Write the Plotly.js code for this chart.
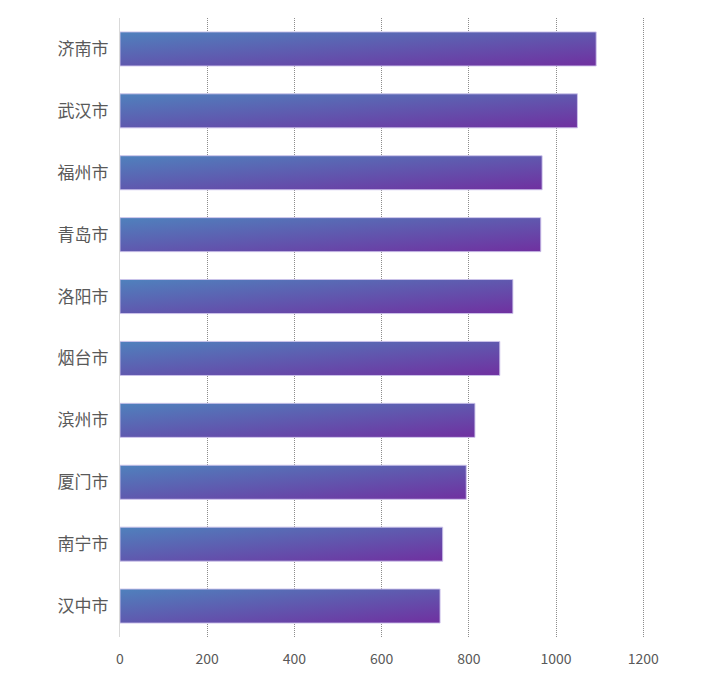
<!DOCTYPE html>
<html>
<head>
<meta charset="utf-8">
<script src="https://cdn.plot.ly/plotly-3.0.1.min.js"></script>
<style>
  body { margin: 0; background: #fff; }
  #chart { width: 720px; height: 685px; }
</style>
</head>
<body>
<div id="chart"></div>
<script>
var cities = ['济南市', '武汉市', '福州市', '青岛市', '洛阳市', '烟台市', '滨州市', '厦门市', '南宁市', '汉中市'];
var counts = [1092, 1049, 968, 965, 901, 871, 814, 794, 740, 734];
var xTicks = [0, 200, 400, 600, 800, 1000, 1200];

var data = [{
  type: 'bar',
  orientation: 'h',
  y: cities,
  x: counts,
  width: 0.55,
  marker: {
    color: '#6450b0',
    line: { color: 'rgba(205,195,235,0.9)', width: 1 }
  },
  hoverinfo: 'x+y'
}];

var layout = {
  width: 720,
  height: 685,
  margin: { l: 120, r: 68, t: 18, b: 48 },
  paper_bgcolor: '#fff',
  plot_bgcolor: '#fff',
  showlegend: false,
  font: { family: '"Noto Sans CJK SC", "Noto Sans", sans-serif', color: '#595959' },
  xaxis: {
    range: [0, 1220],
    tickvals: xTicks,
    ticktext: xTicks.map(String),
    showgrid: true,
    gridcolor: '#8c8c8c',
    gridwidth: 1,
    griddash: '1px,1px',
    zeroline: false,
    showline: false,
    ticks: '',
    ticklabelstandoff: 12,
    tickfont: { size: 14, color: '#595959' },
    fixedrange: true
  },
  yaxis: {
    autorange: 'reversed',
    showline: true,
    linecolor: '#d9d9d9',
    linewidth: 1,
    showgrid: false,
    zeroline: false,
    ticks: '',
    ticklabelstandoff: 7,
    tickfont: { size: 17, color: '#595959' },
    fixedrange: true
  }
};

Plotly.newPlot('chart', data, layout, { displayModeBar: false }).then(function (gd) {
  // diagonal blue-to-purple fill on every bar
  var ns = 'http://www.w3.org/2000/svg';
  var defs = gd.querySelector('svg.main-svg defs');
  var grad = document.createElementNS(ns, 'linearGradient');
  grad.setAttribute('id', 'barGrad');
  grad.setAttribute('x1', '0');
  grad.setAttribute('y1', '0');
  grad.setAttribute('x2', '1');
  grad.setAttribute('y2', '1');
  [['0%', '#4f81bd'], ['100%', '#7030a0']].forEach(function (s) {
    var stop = document.createElementNS(ns, 'stop');
    stop.setAttribute('offset', s[0]);
    stop.setAttribute('stop-color', s[1]);
    grad.appendChild(stop);
  });
  defs.appendChild(grad);
  gd.querySelectorAll('.barlayer .point path').forEach(function (p) {
    p.style.fill = 'url(#barGrad)';
  });
});
</script>
</body>
</html>
